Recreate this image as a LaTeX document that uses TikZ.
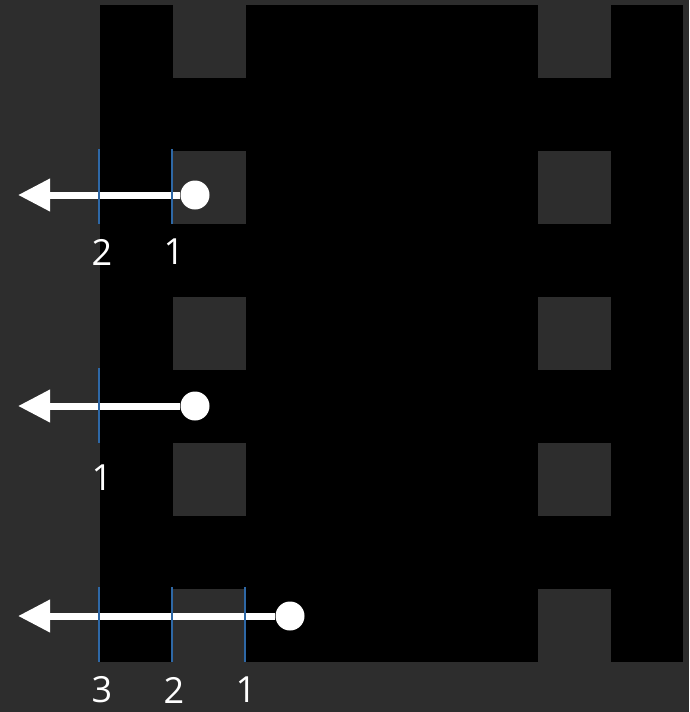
\documentclass[tikz,border=0pt]{standalone}
\usepackage{fontspec}
\setmainfont{Open Sans}
\usepackage{tikz}
\usetikzlibrary{arrows.meta, positioning}
\definecolor{cBack}{RGB}{45,45,45}
\definecolor{cFilm}{RGB}{0,0,0}
\definecolor{cTick}{RGB}{46,104,166}
\tikzset{
	hole/.style     ={fill=cBack, draw=none},
	dot/.style      ={circle, fill=white, draw=none, minimum size=29pt, inner sep=0pt},
	pull/.style     ={-{Triangle[length=32pt, width=31pt]}, white, line width=7pt},
	tick/.style     ={cTick, line width=2pt},
	num/.style      ={text=white, font=\fontsize{36}{40}\selectfont, inner sep=0pt},
}
\begin{document}
\begin{tikzpicture}[x=1pt, y=-1pt]
	\useasboundingbox (0,0) rectangle (689,712);
	\fill[cBack] (0,0) rectangle (689,712);
	% film strip
	\fill[cFilm] (100,5) rectangle (683,662);
	\foreach \y in {5,151,297,443,589} {
		\fill[hole] (173,\y) rectangle (246,\y+73);
		\fill[hole] (538,\y) rectangle (611,\y+73);
	}
	% first row
	\node[dot] (dotA) at (195,195) {};
	\coordinate (tipA) at (18,195);
	\draw[pull] (dotA) -- (tipA);
	\draw[tick] (99,149) -- (99,224);
	\draw[tick] (172,149) -- (172,224);
	\node[num] (a2) at (102,252) {2};
	\node[num] (a1) at (174,252) {1};
	% second row
	\node[dot] (dotB) at (195,406) {};
	\coordinate (tipB) at (18,406);
	\draw[pull] (dotB) -- (tipB);
	\draw[tick] (99,368) -- (99,443);
	\node[num] (b1) at (102,478) {1};
	% third row
	\node[dot] (dotC) at (290,616) {};
	\coordinate (tipC) at (18,616);
	\draw[pull] (dotC) -- (tipC);
	\draw[tick] (99,587) -- (99,662);
	\draw[tick] (172,587) -- (172,662);
	\draw[tick] (245,587) -- (245,662);
	\node[num] (c3) at (102,690) {3};
	\node[num] (c2) at (174,690) {2};
	\node[num] (c1) at (246,690) {1};
\end{tikzpicture}
\end{document}
